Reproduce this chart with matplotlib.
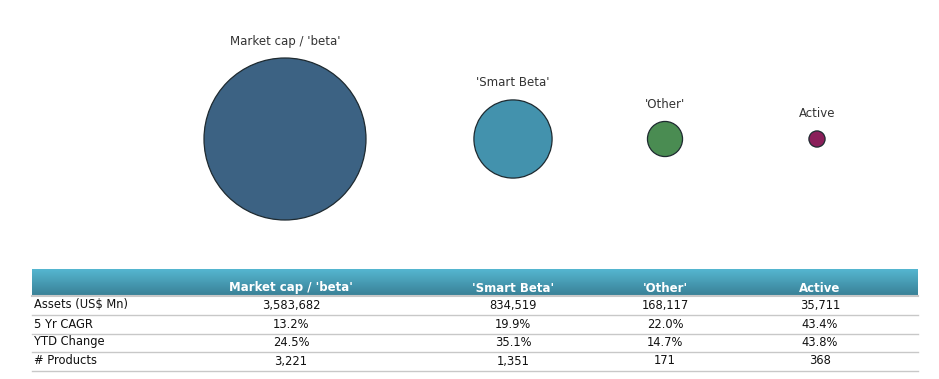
import numpy as np
import matplotlib
matplotlib.use('Agg')
import matplotlib.pyplot as plt
from matplotlib.patches import Circle
from matplotlib.colors import LinearSegmentedColormap

# ── Data ──
categories = ["Market cap / 'beta'", "'Smart Beta'", "'Other'", "Active"]
assets = [3583682, 834519, 168117, 35711]
cagr_5yr = [13.2, 19.9, 22.0, 43.4]
ytd_change = [24.5, 35.1, 14.7, 43.8]
n_products = [3221, 1351, 171, 368]
row_labels = ['Assets (US$ Mn)', '5 Yr CAGR', 'YTD Change', '# Products']

colors = ['#3c6283', '#4392ad', '#4a8c52', '#8a1f5a']

W, H = 939, 379
fig = plt.figure(figsize=(W / 100, H / 100), dpi=100)
ax = fig.add_axes([0, 0, 1, 1])
ax.set_xlim(0, W)
ax.set_ylim(H, 0)
ax.axis('off')

# ── Bubbles (area proportional to assets) ──
bub_x = [285, 513, 665, 817]
cy = 139
r_max = 81
for x, a, c, name in zip(bub_x, assets, colors, categories):
    r = r_max * np.sqrt(a / max(assets))
    ax.add_patch(Circle((x, cy), r, facecolor=c, edgecolor='#1e2a30', lw=0.9))
    ax.text(x, cy - r - 17, name, ha='center', va='center', fontsize=8.5, color='#333333')

# ── Table ──
col_x = [291, 513, 665, 820]
x0, x1 = 32, 918
hy0, hy1 = 269, 295
grad = np.linspace(0, 1, 64).reshape(-1, 1)
cmap = LinearSegmentedColormap.from_list('hdr', ['#55b6d0', '#3a8298'])
ax.imshow(grad, cmap=cmap, extent=[x0, x1, hy1, hy0], aspect='auto', zorder=1)
ax.plot([x0, x1], [hy1 + 1, hy1 + 1], color='#c8c8c8', lw=1.5, zorder=2)
for x, name in zip(col_x, categories):
    ax.text(x, 288, name, ha='center', va='center', fontsize=8.5,
            color='white', fontweight='bold', zorder=3)

rows = [
    [f'{v:,}' for v in assets],
    [f'{v:.1f}%' for v in cagr_5yr],
    [f'{v:.1f}%' for v in ytd_change],
    [f'{v:,}' for v in n_products],
]
row_y = [305, 324, 342, 361]
for y, lab, vals in zip(row_y, row_labels, rows):
    ax.text(34, y, lab, ha='left', va='center', fontsize=8.3, color='#111111')
    for x, v in zip(col_x, vals):
        ax.text(x, y, v, ha='center', va='center', fontsize=8.3, color='#111111')
    ax.plot([x0, x1], [y + 9.5, y + 9.5], color='#c8c8c8', lw=1)

fig.savefig('out.png', dpi=100)
